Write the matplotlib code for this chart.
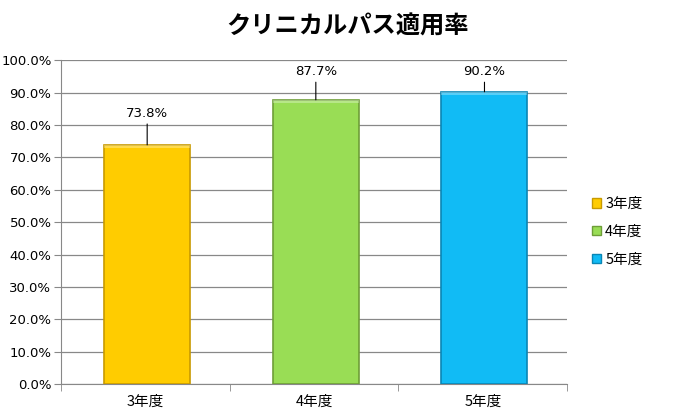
import matplotlib.pyplot as plt
import numpy as np

plt.rcParams['font.family'] = ['Noto Sans CJK JP', 'DejaVu Sans']

# chart data
categories = ['3年度', '4年度', '5年度']
rates = [73.8, 87.7, 90.2]
colors = ['#FFCC00', '#99DD55', '#11BBF5']
edges = ['#C89A00', '#6E9E38', '#0A86B5']

fig = plt.figure(figsize=(6.95, 4.18), dpi=100)
ax = fig.add_axes([0.088, 0.081, 0.728, 0.775])

x = np.arange(len(categories))
bars = ax.bar(x + 0.01, rates, width=0.51, color=colors, edgecolor=edges,
              linewidth=1.2, zorder=3)

# lighter strip along the top of each bar (bevel look)
for b in bars:
    ax.bar(b.get_x() + b.get_width() / 2, 1.0, bottom=b.get_height() - 1.0,
           width=b.get_width(), color='white', alpha=0.3, linewidth=0,
           zorder=4)

# value labels with leader lines (kept inside the plot area)
for xi, v in zip(x, rates):
    ax.annotate(f'{v:.1f}%', xy=(xi + 0.01, v),
                xytext=(xi + 0.01, min(v + 9.8, 96.5)),
                ha='center', va='center', fontsize=9.5,
                family=['DejaVu Sans'],
                arrowprops=dict(arrowstyle='-', color='black', lw=0.8,
                                shrinkA=1, shrinkB=0))

ax.set_xlim(-0.5, len(categories) - 0.5)
ax.set_ylim(0, 100)
ax.set_yticks(np.arange(0, 101, 10))
ax.set_yticklabels([f'{t:.1f}%' for t in np.arange(0, 101, 10)], fontsize=9.5,
                   family=['DejaVu Sans'])
ax.set_xticks(x)
ax.set_xticklabels(categories, fontsize=10.5)
ax.set_xticks(np.arange(-0.5, len(categories), 1), minor=True)
ax.tick_params(axis='x', which='major', length=0, pad=8)
ax.tick_params(axis='x', which='minor', length=5, color='#888888')
ax.tick_params(axis='y', length=5, color='#888888', pad=2)

ax.grid(axis='y', color='#888888', linewidth=0.9, zorder=0)
for s in ['top', 'right']:
    ax.spines[s].set_visible(False)
for s in ['left', 'bottom']:
    ax.spines[s].set_color('#888888')

handles = [plt.Rectangle((0, 0), 1, 1, facecolor=c, edgecolor=e)
           for c, e in zip(colors, edges)]
fig.legend(handles, categories, loc='center left',
           bbox_to_anchor=(0.833, 0.445), frameon=False, fontsize=10.5,
           handlelength=0.6, handleheight=0.6, handletextpad=0.3,
           labelspacing=0.95)

fig.suptitle('クリニカルパス適用率', fontsize=17.5, fontweight='bold', y=0.965)

fig.savefig('out.png', dpi=100)
